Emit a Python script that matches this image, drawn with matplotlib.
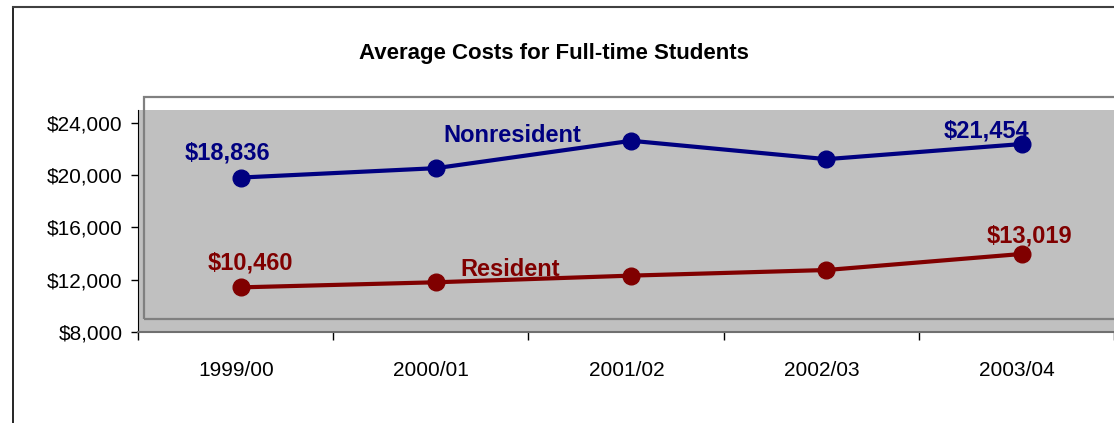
import numpy as np
import matplotlib
matplotlib.use("Agg")
import matplotlib.pyplot as plt
from matplotlib.patches import Rectangle
from matplotlib.lines import Line2D

plt.rcParams['font.family'] = ['Liberation Sans', 'DejaVu Sans']

# datos
years = ['1999/00', '2000/01', '2001/02', '2002/03', '2003/04']
nonresident = [19820, 20540, 22640, 21230, 22390]
resident = [11400, 11790, 12300, 12730, 13960]

# etiquetas escritas a mano en el grafico original
nonres_labels = ['$18,836', 'Nonresident', '$21,454']
res_labels = ['$10,460', 'Resident', '$13,019']

navy = '#000080'
maroon = '#800000'

fig = plt.figure(figsize=(11.14, 4.23), dpi=100)
ax = fig.add_axes([138 / 1114, 1 - 331.7 / 423, 976 / 1114, (331.7 - 110) / 423])
ax.set_facecolor('#C0C0C0')

x = np.arange(len(years))
ax.plot(x, nonresident, color=navy, lw=3, marker='o', ms=12, zorder=3)
ax.plot(x, resident, color=maroon, lw=3, marker='o', ms=12, zorder=3)

# textos de las series
kw = dict(ha='center', va='center', fontsize=17, fontweight='bold')
ax.text(-0.07, 21720, nonres_labels[0], color=navy, **kw)
ax.text(1.39, 23030, nonres_labels[1], color=navy, **kw)
ax.text(3.82, 23360, nonres_labels[2], color=navy, **kw)
ax.text(0.05, 13290, res_labels[0], color=maroon, **kw)
ax.text(1.38, 12790, res_labels[1], color=maroon, **kw)
ax.text(4.04, 15340, res_labels[2], color=maroon, **kw)

# ejes
ax.set_xlim(-0.527, 4.465)
ax.set_ylim(8000, 25000)
ax.set_yticks(np.arange(8000, 24001, 4000))
ax.set_yticklabels(['${:,.0f}'.format(v) for v in np.arange(8000, 24001, 4000)], fontsize=15)
ax.set_xticks(x - 0.025)
ax.set_xticklabels(years, fontsize=15)
ax.set_xticks(np.arange(6) - 0.527, minor=True)
ax.tick_params(axis='x', which='major', length=0, pad=21)
ax.tick_params(axis='x', which='minor', length=6, width=1, color='black')
ax.tick_params(axis='y', length=5, width=1, pad=6)
for s in ['top', 'right']:
    ax.spines[s].set_visible(False)
ax.spines['left'].set_color('black')
ax.spines['bottom'].set_color('#707070')
ax.spines['bottom'].set_linewidth(1.5)

# recuadro gris encima del area de trazado
fig.patches.append(Rectangle((144 / 1114, 1 - 319.3 / 423), 1.0, (319.3 - 97.3) / 423,
                             transform=fig.transFigure, fill=False,
                             edgecolor='#808080', lw=1.6, zorder=5))

# marco exterior del grafico
fig.add_artist(Line2D([12.5 / 1114, 12.5 / 1114], [0, 1 - 7 / 423],
                      transform=fig.transFigure, color='black', lw=1.2))
fig.add_artist(Line2D([12.5 / 1114, 1], [1 - 7 / 423, 1 - 7 / 423],
                      transform=fig.transFigure, color='#404040', lw=1.5))

fig.text(554 / 1114, 1 - 53 / 423, 'Average Costs for Full-time Students',
         ha='center', va='center', fontsize=16, fontweight='bold')

fig.savefig('out.png', dpi=100)
